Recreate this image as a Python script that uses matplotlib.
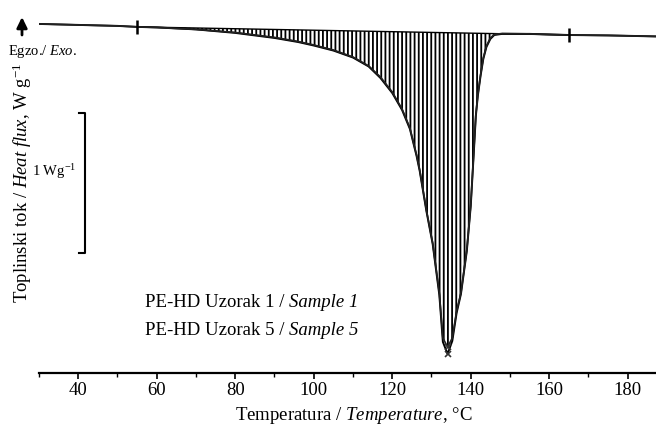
import matplotlib
matplotlib.use("Agg")
import matplotlib.pyplot as plt
import numpy as np

plt.rcParams['font.family'] = ['Liberation Serif', 'DejaVu Serif']
plt.rcParams['mathtext.fontset'] = 'custom'
plt.rcParams['mathtext.rm'] = 'Liberation Serif'
plt.rcParams['mathtext.it'] = 'Liberation Serif:italic'
plt.rcParams['hatch.linewidth'] = 1.3

# --- DSC data, heat flux in W/g, exo up ---
temp = [30, 40, 50, 55, 60, 70, 80, 90, 96, 100, 105, 110, 114, 117, 120,
        122.5, 124.5, 126.2, 127, 128.7, 130.3, 132, 132.9, 134.1, 135.3,
        136.4, 137.5, 139, 140, 140.8, 141.3, 141.8, 142.5, 143.2, 144,
        145, 146, 148, 155, 165, 175, 187]
hf_sample1 = [0.0, -0.007, -0.014, -0.021, -0.025, -0.039, -0.061, -0.096,
              -0.125, -0.150, -0.186, -0.236, -0.300, -0.379, -0.486,
              -0.607, -0.743, -0.936, -1.043, -1.329, -1.564, -1.921,
              -2.243, -2.307, -2.243, -2.050, -1.921, -1.614, -1.293,
              -0.900, -0.650, -0.507, -0.364, -0.243, -0.157, -0.100,
              -0.075, -0.068, -0.071, -0.079, -0.082, -0.089]
hf_sample5 = [0.0, -0.007, -0.014, -0.021, -0.025, -0.039, -0.064, -0.100,
              -0.129, -0.154, -0.190, -0.240, -0.304, -0.386, -0.493,
              -0.614, -0.750, -0.943, -1.050, -1.336, -1.571, -1.936,
              -2.271, -2.357, -2.264, -2.064, -1.929, -1.621, -1.300,
              -0.907, -0.657, -0.514, -0.371, -0.250, -0.164, -0.107,
              -0.079, -0.071, -0.071, -0.079, -0.082, -0.089]
labels_hr = ["PE-HD Uzorak 1 / ", "PE-HD Uzorak 5 / "]
labels_en = ["Sample 1", "Sample 5"]

# integration limits of the melting peak
t_start, t_end = 55, 165
xticks = np.arange(40, 181, 20)

temp = np.array(temp)
hf1 = np.array(hf_sample1)
hf5 = np.array(hf_sample5)

fig = plt.figure(figsize=(6.56, 4.29), dpi=100)
ax = fig.add_axes([39 / 656, 1 - 372.7 / 429, 1 - 39 / 656, 372.7 / 429])

# hatched peak area between the integration baseline and the curve
y0 = np.interp(t_start, temp, hf1)
y1 = np.interp(t_end, temp, hf1)
mask = (temp >= t_start) & (temp <= t_end)
base = y0 + (y1 - y0) * (temp[mask] - t_start) / (t_end - t_start)
ax.fill_between(temp[mask], base, hf1[mask], facecolor='none',
                edgecolor='k', hatch='||||', linewidth=0)
ax.plot([t_start, t_end], [y0, y1], color='k', lw=1.0)

ax.plot(temp, hf5, color='k', lw=1.4)
ax.plot(temp, hf1, color='#222222', lw=1.2)
for hf in (hf1, hf5):
    i = np.argmin(hf)
    ax.plot(temp[i], hf[i], 'x', color='#333333', ms=5, mew=1.2)

# integration limit markers
ax.plot([t_start, t_end], [y0, y1], '|', color='k', ms=10, mew=1.8)

# scale bar 1 W/g
bar_top = -0.636
ax.plot([40.3, 41.6, 41.6, 40.3], [bar_top, bar_top, bar_top - 1, bar_top - 1],
        color='k', lw=1.5)
ax.text(39.6, bar_top - 0.42, "1 Wg$^{-1}$", fontsize=10.5, ha='right', va='center')

ax.set_xlim(30, 187.2)
ax.set_ylim(-2.491, 0.171)
ax.set_xticks(xticks)
ax.set_xticks(np.arange(30, 187, 10), minor=True)
ax.tick_params(axis='x', which='major', direction='out', length=4, width=1.2,
               labelsize=13.5, pad=3)
ax.tick_params(axis='x', which='minor', direction='out', length=3, width=1.0)
ax.set_yticks([])
for s in ('left', 'right', 'top'):
    ax.spines[s].set_visible(False)
ax.spines['bottom'].set_linewidth(1.6)

# mixed roman / italic legend lines
for k, yy in enumerate((-2.02, -2.22)):
    t = ax.text(56.9, yy, labels_hr[k], fontsize=13.5, va='baseline')
    ax.annotate(labels_en[k], xy=(1, 0), xycoords=t, fontsize=13.5,
                style='italic', va='bottom')

fig.text(0.54, 1 - 415 / 429, "Temperatura / $\\mathit{Temperature}$, °C",
         fontsize=13.5, ha='center', va='center')
fig.text(22 / 656, 1 - 183 / 429, "Toplinski tok / $\\mathit{Heat\\ flux}$, W g$^{-1}$",
         fontsize=13.5, ha='center', va='center', rotation=90)
fig.text(8 / 656, 1 - 52 / 429, "Egzo./ $\\mathit{Exo.}$", fontsize=10.5,
         ha='left', va='center')
fig.add_artist(matplotlib.patches.FancyArrowPatch(
    (22 / 656, 1 - 35 / 429), (22 / 656, 1 - 17 / 429), transform=fig.transFigure,
    arrowstyle='-|>,head_length=0.45,head_width=0.22', mutation_scale=14,
    color='k', lw=2.0, shrinkA=0, shrinkB=0))

fig.savefig("out.png", dpi=100)
